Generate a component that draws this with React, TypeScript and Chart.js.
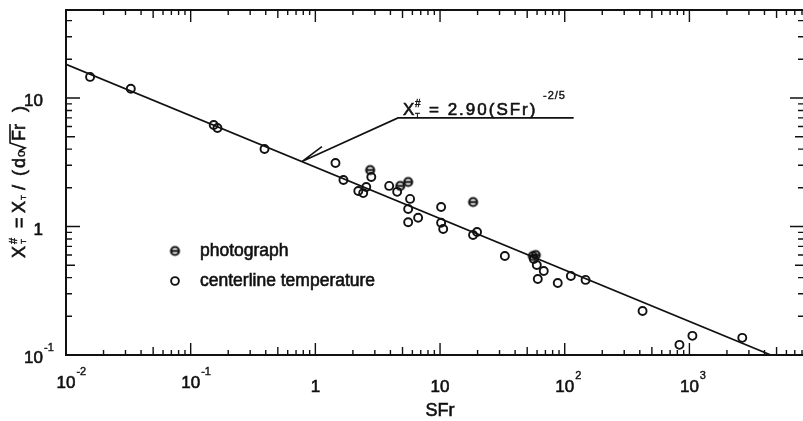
import React, { useEffect, useRef } from "react";
import { Chart, registerables } from "chart.js";
Chart.register(...registerables);

const W = 810;
const H = 421;

// centerline temperature (open circles)
const tempSFr = [0.0156, 0.0331, 0.153, 0.164, 0.391, 1.45, 1.68, 2.21, 2.42, 2.56, 2.81, 3.91, 4.53, 5.75, 5.55, 5.55, 6.67, 10.2, 10.2, 10.6, 18.4, 19.8, 33.1, 56.5, 59.7, 67.9, 60.8, 87.9, 112, 147, 421, 832, 1057, 2655];
const tempX = [14.6, 11.8, 6.17, 5.84, 4.01, 3.12, 2.30, 1.89, 1.82, 2.03, 2.43, 2.07, 1.86, 1.64, 1.37, 1.08, 1.17, 1.42, 1.07, 0.956, 0.859, 0.906, 0.589, 0.558, 0.502, 0.450, 0.390, 0.363, 0.412, 0.384, 0.220, 0.120, 0.141, 0.136];

// photograph (theta markers)
const photoSFr = [2.75, 4.79, 5.55, 18.4, 58.6, 55.5];
const photoX = [2.75, 2.07, 2.22, 1.55, 0.600, 0.589];

// fitted line X = 2.90 (SFr)^-2/5, endpoints
const fitSFr = [0.01, 4500];
const fitX = [18.3, 0.1];

// axes
const xMin = 0.01;
const xMax = 8300;
const yMin = 0.1;
const yMax = 48.4;
const xTickValues = [0.01, 0.1, 1, 10, 100, 1000];
const xTickBase = ["10", "10", "1", "10", "10", "10"];
const xTickExp = ["-2", "-1", "", "", "2", "3"];
const yTickValues = [10, 1, 0.1];
const yTickBase = ["10", "1", "10"];
const yTickExp = ["", "", "-1"];

// annotation anchor (data coords)
const arrowTip = { x: 0.78, y: 3.2 };
const arrowElbow = { x: 4.6, y: 7.0 };
const underlineEndX = 118;

const INK = "#111";
const FONT = '"Liberation Sans", Arial, sans-serif';

function makeTheta(): HTMLCanvasElement {
  const c = document.createElement("canvas");
  const s = 13;
  c.width = s;
  c.height = s;
  const g = c.getContext("2d")!;
  g.strokeStyle = INK;
  g.lineWidth = 2.1;
  g.beginPath();
  g.arc(s / 2, s / 2, 4, 0, Math.PI * 2);
  g.stroke();
  g.lineWidth = 2.2;
  g.beginPath();
  g.moveTo(s / 2 - 4, s / 2);
  g.lineTo(s / 2 + 4, s / 2);
  g.stroke();
  return c;
}

function txt(ctx: CanvasRenderingContext2D, s: string, x: number, y: number, size: number, align: CanvasTextAlign = "left", spacing = 0) {
  ctx.font = `${size}px ${FONT}`;
  (ctx as any).letterSpacing = `${spacing}px`;
  ctx.textAlign = align;
  ctx.textBaseline = "alphabetic";
  ctx.fillText(s, x, y);
  ctx.save();
  ctx.lineWidth = size > 12 ? 0.6 : 0.4;
  ctx.strokeText(s, x, y);
  ctx.restore();
  (ctx as any).letterSpacing = "0px";
}

const decorPlugin = {
  id: "decor",
  afterDraw(chart: any) {
    const ctx: CanvasRenderingContext2D = chart.ctx;
    const { left, right, top, bottom } = chart.chartArea;
    const xs = chart.scales.x;
    const ys = chart.scales.y;
    ctx.save();
    ctx.strokeStyle = INK;
    ctx.fillStyle = INK;

    // frame
    ctx.lineWidth = 2;
    ctx.strokeRect(left, top, right - left, bottom - top);

    // x ticks
    ctx.lineWidth = 1.4;
    for (let d = -2; d <= 4; d++) {
      for (let m = 1; m <= 9; m++) {
        const v = m * Math.pow(10, d);
        if (v < xMin * 0.999 || v > xMax) continue;
        const px = xs.getPixelForValue(v);
        const len = m === 1 ? 12 : m === 5 ? 8 : 5;
        ctx.beginPath();
        ctx.moveTo(px, bottom);
        ctx.lineTo(px, bottom - len);
        ctx.moveTo(px, top);
        ctx.lineTo(px, top + len);
        ctx.stroke();
      }
    }
    // y ticks
    for (let d = -1; d <= 1; d++) {
      for (let m = 1; m <= 9; m++) {
        const v = m * Math.pow(10, d);
        if (v < yMin * 0.999 || v > yMax) continue;
        const py = ys.getPixelForValue(v);
        const len = m === 1 ? 14 : m === 5 ? 9 : 6;
        ctx.beginPath();
        ctx.moveTo(left, py);
        ctx.lineTo(left + len, py);
        ctx.moveTo(right, py);
        ctx.lineTo(right - len, py);
        ctx.stroke();
      }
    }

    // x tick labels
    xTickValues.forEach((v, i) => {
      const px = xs.getPixelForValue(v);
      const neg = xTickExp[i].startsWith("-");
      const base = neg ? bottom + 33 : bottom + 37;
      txt(ctx, xTickBase[i], px, base, 17, "center");
      if (xTickExp[i]) {
        ctx.font = `17px ${FONT}`;
        const w = ctx.measureText(xTickBase[i]).width;
        txt(ctx, xTickExp[i], px + w / 2 + 1, base - 13, 11, "left");
      }
    });
    // y tick labels
    yTickValues.forEach((v, i) => {
      const py = ys.getPixelForValue(v);
      txt(ctx, yTickBase[i], left - 23, py + 8, 17, "right");
      if (yTickExp[i]) {
        txt(ctx, yTickExp[i], left - 22, py - 4, 11, "left");
      }
    });

    // x title
    txt(ctx, "SFr", xs.getPixelForValue(10), bottom + 61, 18, "center");

    // y title (rotated)
    ctx.save();
    ctx.translate(25, 258);
    ctx.rotate(-Math.PI / 2);
    txt(ctx, "X", 0, 0, 18);
    txt(ctx, "#", 14, -8, 11);
    txt(ctx, "T", 14, 1, 8);
    txt(ctx, "=", 30, 0, 18);
    txt(ctx, "X", 45, 0, 18);
    txt(ctx, "T", 58, 1, 8);
    txt(ctx, "/", 68, 0, 18);
    txt(ctx, "(", 82, 0, 18);
    txt(ctx, "d", 90, 0, 18);
    txt(ctx, "o", 101, 0, 12);
    ctx.lineWidth = 1.6;
    ctx.beginPath();
    ctx.moveTo(107, -6);
    ctx.lineTo(110, 0);
    ctx.lineTo(115, -15);
    ctx.lineTo(134, -15);
    ctx.stroke();
    txt(ctx, "F", 117, 0, 18);
    txt(ctx, "r", 128, 0, 18);
    txt(ctx, ")", 146, 0, 18);
    ctx.restore();

    // legend
    const theta = makeTheta();
    ctx.drawImage(theta, 175 - 6.5, 251 - 6.5);
    ctx.lineWidth = 1.9;
    ctx.beginPath();
    ctx.arc(175, 281, 3.9, 0, Math.PI * 2);
    ctx.stroke();
    txt(ctx, "photograph", 200, 256, 17.5);
    txt(ctx, "centerline temperature", 200, 286, 17.5);

    // annotation
    const tx = xs.getPixelForValue(arrowTip.x);
    const ty = ys.getPixelForValue(arrowTip.y);
    const ex = xs.getPixelForValue(arrowElbow.x);
    const ey = ys.getPixelForValue(arrowElbow.y);
    const ux = xs.getPixelForValue(underlineEndX);
    ctx.lineWidth = 1.6;
    ctx.beginPath();
    ctx.moveTo(tx, ty);
    ctx.lineTo(ex, ey);
    ctx.lineTo(ux, ey);
    ctx.moveTo(tx, ty);
    ctx.lineTo(tx + 20, ty - 15);
    ctx.stroke();

    const b = ey - 3;
    txt(ctx, "X", ex + 5, b, 17);
    txt(ctx, "#", ex + 17, b - 8, 10);
    txt(ctx, "T", ex + 17, b + 3, 8);
    txt(ctx, "= 2.90(SFr)", ex + 31, b, 17, "left", 2);
    txt(ctx, "-2/5", ex + 145, b - 16, 11, "left", 1);

    ctx.restore();
  },
};

export default function App() {
  const ref = useRef<HTMLCanvasElement>(null);
  useEffect(() => {
    if (!ref.current) return;
    const theta = makeTheta();
    const chart = new Chart(ref.current, {
      type: "scatter",
      data: {
        datasets: [
          {
            label: "fit",
            data: fitSFr.map((x, i) => ({ x, y: fitX[i] })),
            showLine: true,
            borderColor: INK,
            borderWidth: 1.7,
            pointRadius: 0,
          },
          {
            label: "centerline temperature",
            data: tempSFr.map((x, i) => ({ x, y: tempX[i] })),
            pointStyle: "circle",
            pointRadius: 4,
            borderWidth: 1.9,
            borderColor: INK,
            backgroundColor: "rgba(0,0,0,0)",
          },
          {
            label: "photograph",
            data: photoSFr.map((x, i) => ({ x, y: photoX[i] })),
            pointStyle: theta as any,
            pointRadius: 5,
            borderColor: INK,
            backgroundColor: INK,
          },
        ],
      },
      options: {
        responsive: false,
        animation: false,
        devicePixelRatio: 1,
        layout: { padding: { left: 66, top: 10, right: W - 806, bottom: H - 355 } },
        plugins: { legend: { display: false }, tooltip: { enabled: false }, title: { display: false } },
        scales: {
          x: { type: "logarithmic", min: xMin, max: xMax, display: false, bounds: "data" } as any,
          y: { type: "logarithmic", min: yMin, max: yMax, display: false, bounds: "data" } as any,
        },
      },
      plugins: [decorPlugin],
    });
    return () => chart.destroy();
  }, []);
  return (
    <div style={{ position: "fixed", left: 0, top: 0, width: 803, height: 421, overflow: "hidden", background: "#fff" }}>
      <canvas ref={ref} width={W} height={H} style={{ display: "block", width: W, height: H }} />
    </div>
  );
}
